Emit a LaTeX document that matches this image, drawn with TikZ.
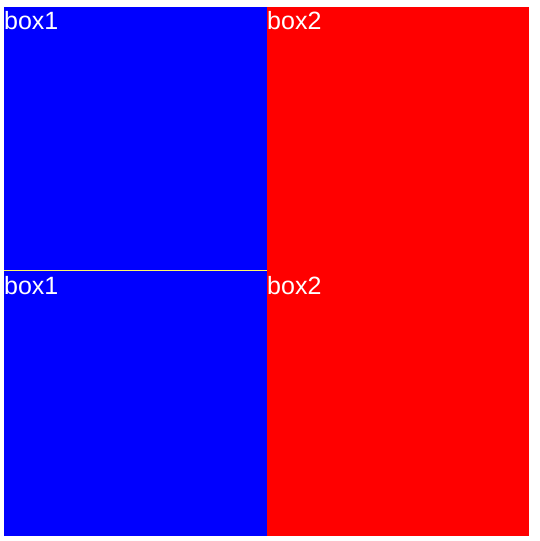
\documentclass[tikz,border=0pt]{standalone}
\usepackage{fontspec}
\setmainfont{Liberation Sans}
\begin{document}
\begin{tikzpicture}[x=1pt,y=-1pt,
  lbl/.style={text=white,font=\fontsize{25}{25}\selectfont,inner sep=0pt,anchor=north west},
  bluebox/.style={fill=blue,draw=none},
  redbox/.style={fill=red,draw=none}]
\useasboundingbox (0,0) rectangle (540,541);
\fill[white] (0,0) rectangle (540,541);
\path[redbox] (267,7) rectangle (529,536);
\path[bluebox] (4,7) rectangle (267,271.5);
\path[bluebox] (4,271.5) rectangle (267,536);
\draw[yellow!60!white,line width=1pt] (4,270.5) -- (267,270.5);
\node[lbl] (b1a) at (4,11.5) {box1};
\node[lbl] (b2a) at (267,11.5) {box2};
\node[lbl] (b1b) at (4,276.5) {box1};
\node[lbl] (b2b) at (267,276.5) {box2};
\end{tikzpicture}
\end{document}
